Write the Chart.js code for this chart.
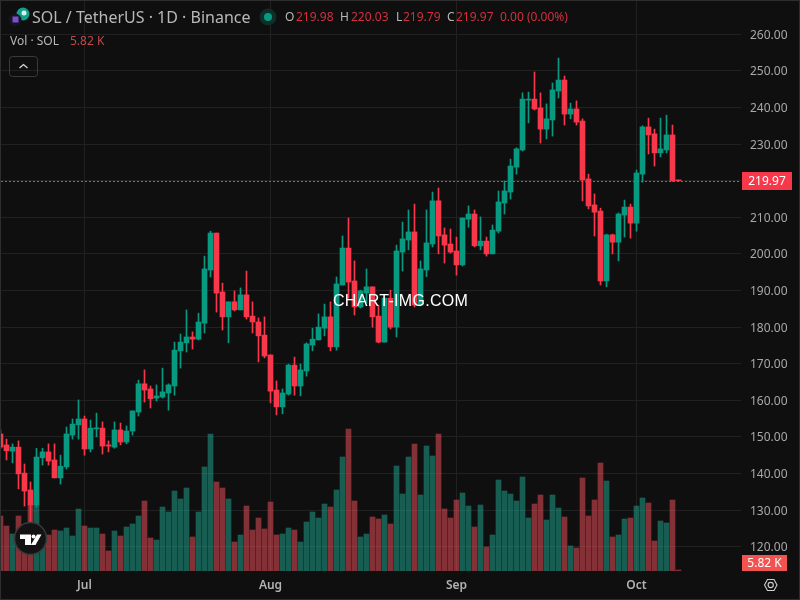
<!DOCTYPE html>
<html>
<head>
<meta charset="utf-8">
<title>SOL / TetherUS</title>
<script src="https://cdn.jsdelivr.net/npm/chart.js@4"></script>
<style>
  html, body { margin: 0; padding: 0; background: #0f0f0f; }
  #wrap { position: relative; width: 800px; height: 600px; overflow: hidden; font-family: "Noto Sans", sans-serif; }
  #chart { position: absolute; left: 0; top: 0; }
  #frame { position: absolute; left: 0; top: 0; width: 798px; height: 598px; border: 1px solid #2e2e2e; }
  svg { position: absolute; left: 0; top: 0; }
  .txt { position: absolute; white-space: pre; line-height: 1; }
  .red { color: #d32f3f; }
  .grey { color: #b8b8b8; }
</style>
</head>
<body>
<div id="wrap">
  <canvas id="chart" width="800" height="600"></canvas>
  <div id="frame"></div>
  <svg width="800" height="600" viewBox="0 0 800 600">
    <!-- symbol icon -->
    <circle cx="23" cy="14" r="6.5" fill="#10a08c"/>
    <circle cx="24" cy="13" r="2.5" fill="#d8f0ec"/>
    <circle cx="15" cy="20" r="6.5" fill="#15151f"/>
    <rect x="12.5" y="16.5" width="6" height="6" fill="#7a4fd0"/>
    <!-- market status dot -->
    <circle cx="268" cy="17" r="8.5" fill="#0d2e29"/>
    <circle cx="268" cy="17" r="4" fill="#089981"/>
    <!-- collapse button -->
    <rect x="9.5" y="56.5" width="28" height="20" rx="3" fill="none" stroke="#3a3a3a"/>
    <path d="M19.5 68 L23.5 64.5 L27.5 68" fill="none" stroke="#d8d8d8" stroke-width="1.3"/>
    <!-- logo -->
    <circle cx="30.5" cy="538.5" r="16" fill="#131313" stroke="#3a3a3a" stroke-width="1.5"/>
    <path d="M20 534.5 H31 V545 H25 V539 H20 Z" fill="#fff"/>
    <circle cx="33.5" cy="536.5" r="2" fill="#fff"/>
    <path d="M37 534.5 H41.5 L35.5 545 H30.8 Z" fill="#fff"/>
    <!-- settings icon -->
    <path d="M764.5 585 L767.5 579.5 H774 L777 585 L774 590.5 H767.5 Z" fill="none" stroke="#d0d0d0" stroke-width="1.1"/>
    <circle cx="770.7" cy="585" r="2.6" fill="none" stroke="#d0d0d0" stroke-width="1.1"/>
  </svg>
  <span class="txt grey" style="left:32px;top:9px;font-size:16px">SOL / TetherUS · 1D · Binance</span>
  <span class="txt grey" style="left:285px;top:11px;font-size:12px">O</span>
  <span class="txt red" style="left:296px;top:11px;font-size:12px">219.98</span>
  <span class="txt grey" style="left:340px;top:11px;font-size:12px">H</span>
  <span class="txt red" style="left:351px;top:11px;font-size:12px">220.03</span>
  <span class="txt grey" style="left:396px;top:11px;font-size:12px">L</span>
  <span class="txt red" style="left:403px;top:11px;font-size:12px">219.79</span>
  <span class="txt grey" style="left:447px;top:11px;font-size:12px">C</span>
  <span class="txt red" style="left:456px;top:11px;font-size:12px">219.97</span>
  <span class="txt red" style="left:500px;top:11px;font-size:12px">0.00 (0.00%)</span>
  <span class="txt grey" style="left:10px;top:35px;font-size:12px">Vol · SOL</span>
  <span class="txt" style="left:70px;top:35px;font-size:12px;color:#c04848">5.82 K</span>
  <span class="txt" style="left:333px;top:293px;font-size:16px;letter-spacing:0.3px;color:#fff;font-family:'Liberation Sans',sans-serif">CHART-IMG.COM</span>
</div>
<script>
const priceTicks = [120, 130, 140, 150, 160, 170, 180, 190, 200, 210, 220, 230, 240, 250, 260];
const monthLabels = ['Jul', 'Aug', 'Sep', 'Oct'];
const monthBars = [14, 45, 76, 106];

const opens = [
  150.8, 147.8, 146.1, 147.2, 140.1, 135.5, 131.4, 144.3, 145.9, 143.7,
  138.8, 141.8, 150.5, 153.3, 154.9, 146.7, 152.2, 152.4, 147.8, 147.2,
  151.9, 148.6, 151.6, 156.8, 164.5, 163.1, 160.6, 160.9, 162.0, 163.9,
  173.5, 175.7, 177.3, 176.7, 181.1, 195.6, 205.7, 189.6, 182.8, 186.9,
  184.7, 188.8, 183.0, 181.4, 177.8, 172.4, 162.8, 158.2, 161.7, 169.6,
  163.9, 168.0, 175.1, 176.5, 179.7, 182.8, 174.6, 191.5, 201.6, 192.6,
  185.5, 189.3, 191.0, 183.0, 175.9, 187.9, 180.0, 200.5, 203.8, 206.0,
  186.0, 195.6, 202.7, 214.5, 205.2, 202.7, 200.8, 197.0, 209.5, 210.9,
  202.2, 203.5, 200.0, 206.2, 213.9, 216.9, 223.7, 228.4, 242.0, 242.3,
  239.9, 234.1, 236.6, 244.5, 247.5, 238.2, 239.6, 236.3, 220.5, 213.4,
  211.7, 192.6, 205.2, 203.2, 210.6, 212.8, 208.4, 221.8, 234.7, 232.8,
  227.6, 228.4, 232.5, 219.98
];
const closes = [
  147.2, 146.2, 147.2, 139.9, 135.2, 131.4, 144.5, 145.9, 143.4, 138.8,
  142.0, 150.8, 153.5, 154.9, 146.7, 152.4, 152.4, 147.5, 147.5, 151.9,
  148.6, 151.6, 157.1, 164.5, 162.8, 160.4, 161.2, 162.3, 164.2, 173.7,
  175.9, 177.3, 176.7, 181.4, 195.9, 205.7, 189.3, 182.8, 186.9, 184.7,
  188.8, 182.8, 181.4, 177.6, 172.1, 162.5, 158.2, 162.0, 169.6, 163.9,
  168.3, 175.4, 176.7, 180.0, 182.8, 174.6, 191.8, 201.6, 192.3, 185.5,
  189.9, 191.0, 182.8, 175.9, 187.9, 180.0, 200.8, 204.1, 206.0, 186.0,
  195.9, 203.0, 214.5, 204.9, 202.4, 200.5, 197.0, 209.8, 210.9, 202.2,
  203.5, 200.0, 206.5, 214.2, 217.2, 224.0, 228.7, 242.3, 242.3, 239.6,
  234.1, 236.9, 244.8, 247.5, 238.2, 239.6, 236.0, 220.2, 213.1, 211.4,
  192.6, 205.2, 203.2, 210.9, 212.8, 208.4, 222.1, 234.7, 232.5, 227.6,
  228.7, 232.5, 219.98, 219.97
];
const highs = [
  151.9, 149.4, 148.1, 148.9, 142.6, 137.7, 146.9, 146.9, 148.1, 148.1,
  145.0, 152.7, 154.9, 160.1, 155.7, 154.6, 156.5, 154.1, 148.9, 154.1,
  153.8, 153.0, 157.1, 165.5, 168.3, 163.9, 164.2, 168.8, 164.5, 175.9,
  178.1, 184.7, 178.7, 183.8, 199.4, 206.2, 205.7, 192.0, 186.9, 189.9,
  190.7, 195.3, 186.9, 182.5, 182.8, 172.4, 165.3, 163.1, 169.9, 171.8,
  169.9, 175.7, 179.7, 183.6, 186.3, 186.9, 193.7, 204.9, 209.8, 198.1,
  190.1, 195.9, 191.0, 186.0, 187.9, 190.1, 202.4, 208.7, 212.0, 213.6,
  198.1, 212.0, 216.9, 218.0, 207.1, 206.8, 204.6, 209.8, 213.1, 212.0,
  210.1, 204.6, 207.9, 217.2, 219.9, 225.9, 229.0, 244.0, 244.2, 249.7,
  244.0, 241.0, 246.7, 253.5, 248.6, 241.2, 241.8, 236.9, 221.8, 216.4,
  212.5, 205.4, 205.4, 211.2, 214.7, 213.6, 222.9, 235.0, 237.1, 234.1,
  237.1, 237.9, 235.2, 220.03
];
const lows = [
  146.7, 143.7, 142.9, 135.8, 131.1, 125.9, 130.8, 142.3, 142.3, 138.8,
  137.1, 141.2, 149.4, 149.4, 145.0, 145.9, 150.0, 145.3, 145.9, 146.9,
  147.8, 148.1, 150.5, 155.7, 159.5, 157.9, 159.8, 160.6, 157.3, 161.4,
  168.8, 173.2, 174.0, 176.5, 178.4, 193.7, 184.1, 179.2, 175.7, 184.4,
  184.7, 182.2, 178.4, 170.5, 171.6, 159.3, 156.0, 156.3, 161.4, 161.4,
  161.2, 166.6, 173.5, 176.5, 177.6, 173.5, 173.7, 191.5, 187.9, 183.3,
  185.2, 186.6, 180.0, 175.7, 175.9, 179.5, 177.3, 195.3, 201.1, 185.5,
  185.8, 193.8, 201.9, 200.0, 197.5, 200.2, 194.2, 196.7, 207.3, 201.9,
  201.1, 199.4, 200.0, 205.7, 210.9, 215.0, 221.8, 228.1, 235.8, 239.3,
  230.3, 231.4, 232.2, 242.6, 235.2, 236.9, 235.2, 214.5, 212.3, 204.9,
  191.5, 191.0, 200.0, 198.1, 204.6, 204.3, 206.2, 219.6, 227.3, 224.0,
  226.5, 227.6, 219.8, 219.79
];
// thousands of SOL
const volumes = [
  330, 270, 222, 330, 246, 396, 396, 222, 216, 246,
  240, 258, 210, 372, 270, 258, 258, 222, 120, 240,
  210, 264, 282, 330, 420, 198, 186, 384, 354, 480,
  432, 498, 204, 354, 624, 822, 534, 498, 432, 174,
  216, 390, 246, 318, 252, 414, 216, 222, 258, 246,
  174, 294, 354, 318, 402, 384, 486, 684, 852, 420,
  204, 222, 324, 312, 336, 282, 630, 462, 684, 762,
  456, 750, 690, 822, 372, 318, 426, 468, 390, 264,
  396, 144, 216, 546, 480, 462, 420, 564, 318, 402,
  456, 306, 456, 378, 324, 150, 138, 558, 330, 426,
  648, 540, 204, 216, 312, 318, 390, 438, 408, 180,
  300, 288, 426, 5.82
];

const lastClose = closes[closes.length - 1];
const lastVolume = volumes[volumes.length - 1];

const upColor = '#089981';
const downColor = '#f7374a';
const volUp = 'rgba(34, 171, 148, 0.5)';
const volDown = 'rgba(247, 82, 95, 0.5)';
const gridColor = '#212121';

const xMin = 0.0833;
const xMax = 123.4167;

const isUp = closes.map((c, i) => c >= opens[i]);
const candleColors = isUp.map(u => u ? upColor : downColor);
const volumeColors = isUp.map(u => u ? volUp : volDown);

// last price line and the two tags on the price axis
const priceTags = {
  id: 'priceTags',
  afterDraw(chart) {
    const { ctx, scales, chartArea } = chart;
    const y = Math.round(scales.y.getPixelForValue(lastClose));
    ctx.save();
    ctx.strokeStyle = downColor;
    ctx.lineWidth = 1;
    ctx.setLineDash([2, 2]);
    ctx.beginPath();
    ctx.moveTo(chartArea.left, y + 0.5);
    ctx.lineTo(chartArea.right, y + 0.5);
    ctx.stroke();
    ctx.textAlign = 'center';
    ctx.textBaseline = 'middle';
    ctx.font = '12px "Noto Sans"';
    ctx.fillStyle = downColor;
    ctx.fillRect(742, y - 9, 50, 18);
    ctx.fillStyle = '#fff';
    ctx.fillText(lastClose.toFixed(2), 767, y + 1);
    const volY = scales.y1.getPixelForValue(0);
    ctx.fillStyle = '#f05350';
    ctx.fillRect(742, volY - 16, 45, 16);
    ctx.fillStyle = '#fff';
    ctx.fillText(lastVolume.toFixed(2) + ' K', 764.5, volY - 7);
    ctx.restore();
  }
};

new Chart(document.getElementById('chart'), {
  type: 'bar',
  plugins: [priceTags],
  data: {
    datasets: [
      {
        label: 'Bodies',
        yAxisID: 'y',
        data: opens.map((o, i) => ({ x: i, y: [o, closes[i]] })),
        backgroundColor: candleColors,
        barThickness: 5,
        minBarLength: 1,
        grouped: false,
        order: 2
      },
      {
        label: 'Wicks',
        yAxisID: 'y',
        data: lows.map((l, i) => ({ x: i, y: [l, highs[i]] })),
        backgroundColor: candleColors,
        barThickness: 1,
        minBarLength: 1,
        grouped: false,
        order: 3
      },
      {
        label: 'Volume',
        yAxisID: 'y1',
        data: volumes.map((v, i) => ({ x: i, y: v })),
        backgroundColor: volumeColors,
        barThickness: 5,
        minBarLength: 1,
        grouped: false,
        order: 4
      }
    ]
  },
  options: {
    responsive: false,
    animation: false,
    devicePixelRatio: 1,
    layout: { autoPadding: false, padding: { left: 1, top: 1, right: 0, bottom: 0 } },
    plugins: { legend: { display: false }, tooltip: { enabled: false } },
    scales: {
      x: {
        type: 'linear',
        offset: false,
        min: xMin,
        max: xMax,
        afterBuildTicks: axis => { axis.ticks = monthBars.map(v => ({ value: v })); },
        afterFit: axis => { axis.height = 29; },
        grid: { color: gridColor, drawTicks: false, offset: false },
        border: { display: false },
        ticks: {
          autoSkip: false,
          maxRotation: 0,
          padding: 7,
          color: '#b2b2b2',
          font: { family: 'Noto Sans', size: 12, weight: 600 },
          callback: (value, i) => monthLabels[i]
        }
      },
      y: {
        type: 'linear',
        position: 'right',
        min: 113.36,
        max: 269.1,
        afterBuildTicks: axis => { axis.ticks = priceTicks.map(v => ({ value: v })); },
        afterFit: axis => {
          axis.width = 59;
          axis.paddingTop = 0;
          axis.paddingBottom = 0;
        },
        grid: { color: gridColor, drawTicks: false },
        border: { display: false },
        ticks: {
          padding: 9,
          labelOffset: 1,
          color: '#a8a8a8',
          font: { family: 'Noto Sans', size: 12 },
          callback: value => value.toFixed(2)
        }
      },
      y1: {
        type: 'linear',
        display: false,
        min: 0,
        max: 3420
      }
    }
  }
});
</script>
</body>
</html>
